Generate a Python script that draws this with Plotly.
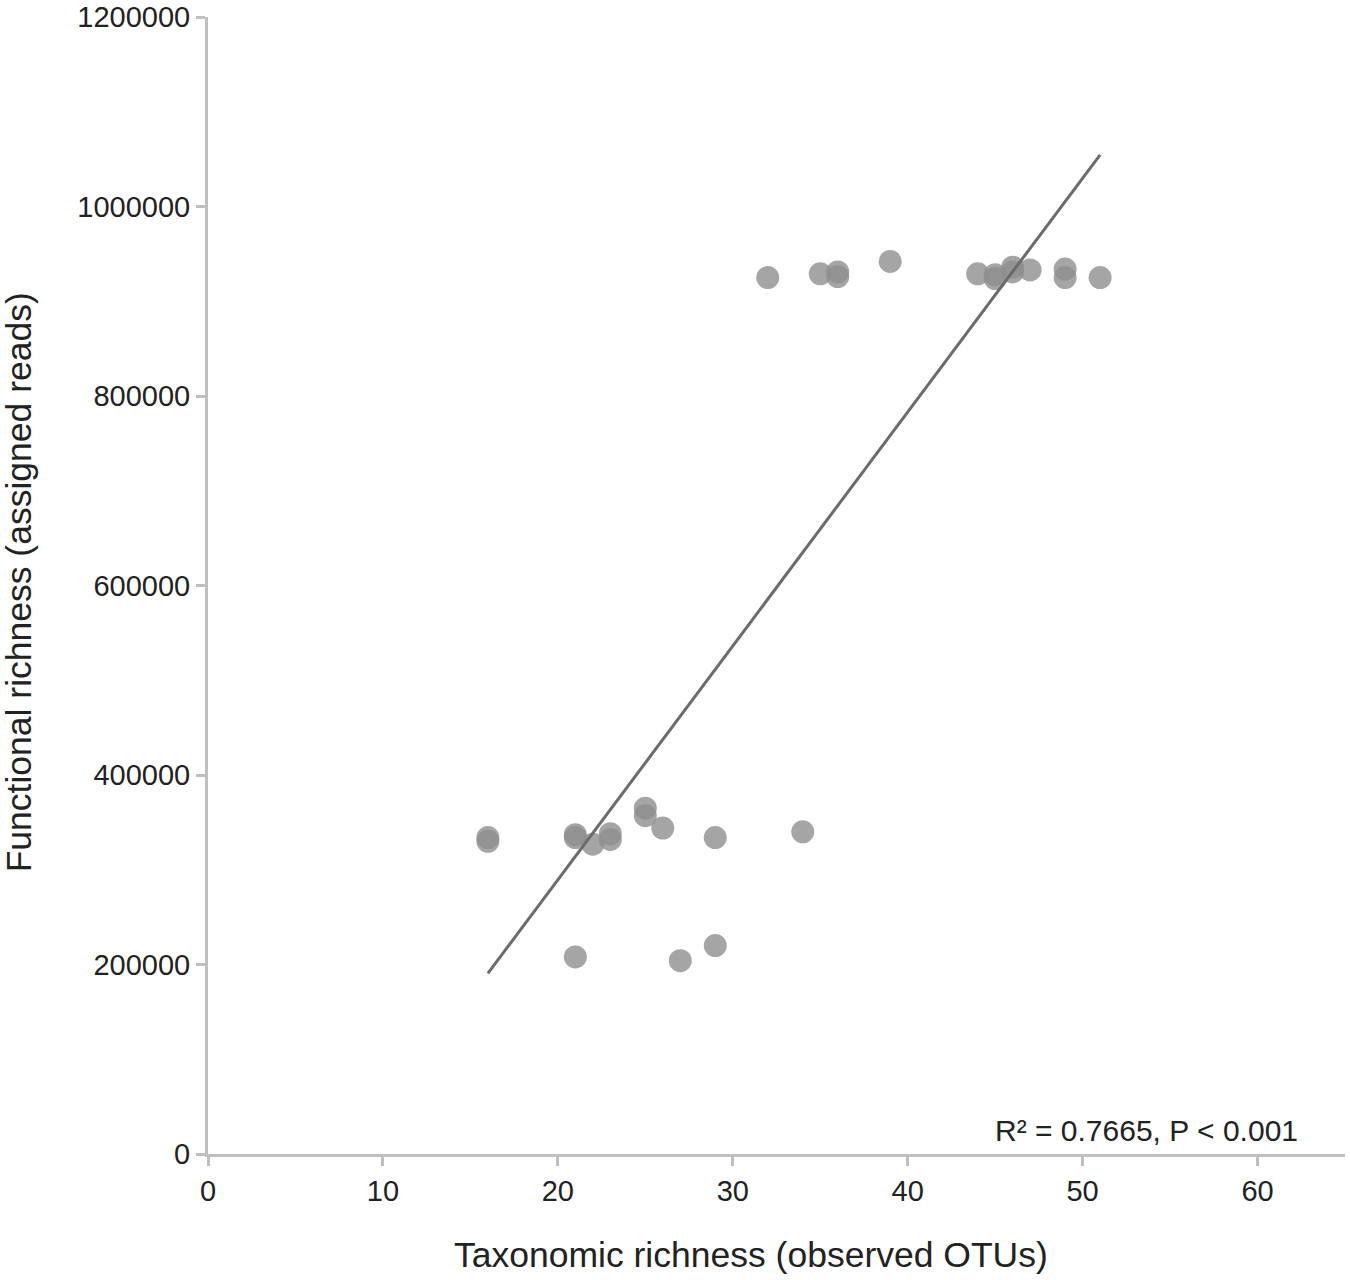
import numpy as np
import plotly.graph_objects as go

# Taxonomic richness (observed OTUs)
otus = [32, 35, 36, 36, 39, 44, 45, 45, 46, 46, 47, 49, 49, 51,
        16, 16, 21, 21, 22, 23, 23, 25, 25, 26, 29, 34,
        21, 27, 29]
# Functional richness (assigned reads)
reads = [925000, 929000, 931000, 926000, 942000, 929000, 928000, 924000, 936000, 931000, 933000, 934000, 925000, 925000,
         334000, 330000, 337000, 334000, 327000, 338000, 332000, 365000, 357000, 344000, 334000, 340000,
         208000, 204000, 220000]

x_ticks = [0, 10, 20, 30, 40, 50, 60]
y_ticks = [0, 200000, 400000, 600000, 800000, 1000000, 1200000]
stat_label = "R² = 0.7665, P < 0.001"

slope, intercept = np.polyfit(otus, reads, 1)
fx = np.array([min(otus), max(otus)])
fy = slope * fx + intercept

FONT = "Liberation Sans, Arial, sans-serif"
AX = "#bfbfbf"
TXT = "#222222"

fig = go.Figure()
fig.add_trace(go.Scatter(x=otus, y=reads, mode="markers",
                         marker=dict(size=23, color="#8f8f8f", opacity=0.8, line=dict(width=0)),
                         showlegend=False, hoverinfo="skip", cliponaxis=False))
fig.add_trace(go.Scatter(x=fx, y=fy, mode="lines",
                         line=dict(color="#6b6b6b", width=3),
                         showlegend=False, hoverinfo="skip"))

fig.update_layout(
    width=1350, height=1280,
    margin=dict(l=208, r=5, t=17, b=126, autoexpand=False),
    paper_bgcolor="white", plot_bgcolor="white",
    font=dict(family=FONT, color=TXT),
    xaxis=dict(range=[0, 65], tickvals=x_ticks, showgrid=False, zeroline=False,
               showline=True, linecolor=AX, linewidth=3, automargin=False,
               ticks="outside", ticklen=9, tickwidth=3, tickcolor=AX,
               ticklabeloverflow="allow",
               tickfont=dict(size=29, family=FONT, color=TXT)),
    yaxis=dict(range=[0, 1200000], tickvals=y_ticks, tickformat="d", showgrid=False, zeroline=False,
               showline=True, linecolor=AX, linewidth=3, automargin=False,
               ticks="outside", ticklen=9, tickwidth=3, tickcolor=AX,
               ticklabeloverflow="allow",
               tickfont=dict(size=29, family=FONT, color=TXT)),
    annotations=[
        dict(text="Taxonomic richness (observed OTUs)", xref="paper", yref="paper",
             x=0.478, y=-0.089, xanchor="center", yanchor="middle", showarrow=False,
             font=dict(size=35.5, family=FONT, color=TXT)),
        dict(text="Functional richness (assigned reads)", xref="paper", yref="paper",
             x=-0.166, y=0.503, xanchor="center", yanchor="middle", textangle=-90, showarrow=False,
             font=dict(size=35.5, family=FONT, color=TXT)),
        dict(text=stat_label, xref="paper", yref="paper",
             x=0.960, y=0.021, xanchor="right", yanchor="middle", showarrow=False,
             font=dict(size=30, family=FONT, color=TXT)),
    ],
)

fig.write_html("out.html", config={"displayModeBar": False},
               post_script="document.body.style.margin='0';")
